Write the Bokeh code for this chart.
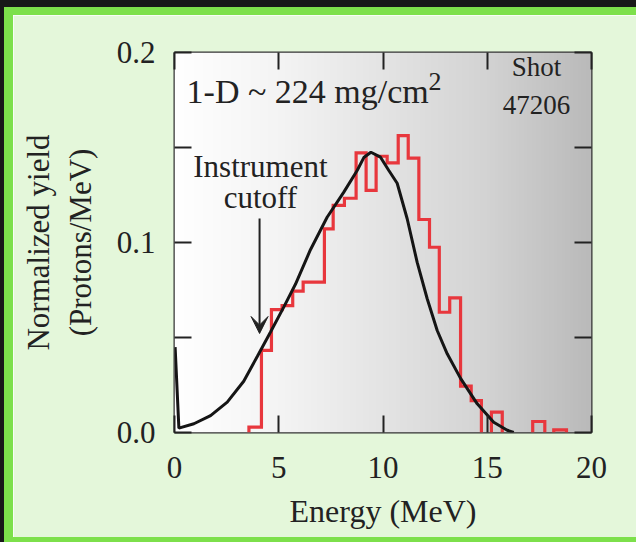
import numpy as np
from bokeh.plotting import figure
from bokeh.models import (Range1d, FixedTicker, LinearAxis, Label, Arrow, VeeHead,
                          Div, PrintfTickFormatter)
from bokeh.layouts import column, row
from bokeh.embed import file_html
from bokeh.resources import INLINE

# ---------------- data ----------------
# measured histogram (red): bin edges and values
red_edges = [3.57, 4.17, 4.65, 5.16, 5.67, 6.17, 7.19, 7.61, 8.15, 8.71, 9.19, 9.67,
             10.20, 10.73, 11.21, 11.72, 12.23, 12.70, 13.20, 13.72, 14.23, 14.72]
red_vals = [0.0028, 0.0432, 0.0647, 0.0668, 0.0744, 0.0791, 0.1072, 0.1195, 0.1233,
            0.1472, 0.1274, 0.1454, 0.1419, 0.1563, 0.1444, 0.1121, 0.0975, 0.0633,
            0.0709, 0.0244, 0.0168]
# isolated high-energy bins
tail_left = [15.20, 17.18, 18.19]
tail_right = [15.72, 17.76, 18.80]
tail_vals = [0.0107, 0.0058, 0.0014]

# simulated 1-D spectrum (black)
curve_x = [0.03, 0.21, 0.93, 1.73, 2.53, 3.32, 3.97, 4.60, 5.24, 5.80, 6.52, 7.32, 8.12,
           8.76, 9.08, 9.42, 9.88, 10.28, 10.68, 11.16, 11.64, 12.12, 12.60, 13.08,
           13.72, 14.52, 15.31, 15.96, 16.27]
curve_y = [0.0449, 0.0023, 0.0046, 0.0089, 0.0160, 0.0270, 0.0400, 0.0528, 0.0660,
           0.0780, 0.0962, 0.1133, 0.1265, 0.1379, 0.1447, 0.1475, 0.1449, 0.1379,
           0.1312, 0.1125, 0.0895, 0.0704, 0.0537, 0.0414, 0.0285, 0.0151, 0.0054,
           0.0012, 0.0]

x_ticks = [0, 5, 10, 15, 20]
y_ticks = [0.0, 0.1, 0.2]
y_minor_ticks = [0.05, 0.15]

cutoff_energy = 4.08
cutoff_arrow_top = 0.1126
cutoff_arrow_tip = 0.0521

# ---------------- styling ----------------
FONT = "Liberation Serif"
INK = "#222222"
RED = "#e8373d"
PANEL = "#e4f7da"
GREEN = "#7de04b"
DARK = "#181818"

p = figure(width=623, height=522, x_range=Range1d(0, 20), y_range=Range1d(0, 0.2),
           output_backend="svg", toolbar_location=None,
           min_border_left=161, min_border_right=45, min_border_top=37, min_border_bottom=105,
           background_fill_color="white", border_fill_color=PANEL,
           outline_line_color="#333333", outline_line_width=2)
p.grid.visible = False

# background gradient (white -> grey)
N = 256
t = np.linspace(0, 1, N)
g = np.interp(t, [0, 0.25, 0.5, 0.75, 1.0], [255, 244, 228, 211, 186]).astype(np.uint8)
img = np.empty((1, N), dtype=np.uint32)
view = img.view(dtype=np.uint8).reshape((1, N, 4))
view[0, :, 0] = g
view[0, :, 1] = g
view[0, :, 2] = g
view[0, :, 3] = 255
p.image_rgba(image=[img], x=0, y=0, dw=20, dh=0.2)

# red measured histogram as step line
sx, sy = [red_edges[0]], [0.0]
for i, v in enumerate(red_vals):
    sx += [red_edges[i], red_edges[i + 1]]
    sy += [v, v]
sx.append(red_edges[-1])
sy.append(0.0)
xs = [sx]
ys = [sy]
for l, r, v in zip(tail_left, tail_right, tail_vals):
    xs.append([l, l, r, r])
    ys.append([0.0, v, v, 0.0])
p.multi_line(xs=xs, ys=ys, line_color=RED, line_width=3.2, line_join="miter")

# black curve
p.line(curve_x, curve_y, line_color="#151515", line_width=3)

# axes
def style_axis(ax, ticker, show_labels):
    ax.ticker = ticker
    ax.axis_line_color = None
    ax.major_tick_in = 17
    ax.major_tick_out = 0
    ax.minor_tick_in = 17
    ax.minor_tick_out = 0
    ax.major_tick_line_color = INK
    ax.major_tick_line_width = 2
    ax.minor_tick_line_color = INK
    ax.minor_tick_line_width = 2
    if show_labels:
        ax.major_label_text_font = FONT
        ax.major_label_text_font_size = "31px"
        ax.major_label_text_color = INK
    else:
        ax.major_label_text_color = None
        ax.major_label_text_font_size = "8px"
        ax.major_label_standoff = 0

xt = FixedTicker(ticks=x_ticks)
yt = FixedTicker(ticks=y_ticks, minor_ticks=y_minor_ticks)

xa = p.xaxis[0]
style_axis(xa, xt, True)
xa.major_label_standoff = 24
xa.axis_label = "Energy (MeV)"
xa.axis_label_text_font = FONT
xa.axis_label_text_font_size = "32px"
xa.axis_label_text_font_style = "normal"
xa.axis_label_text_color = INK
xa.axis_label_standoff = 12

ya = p.yaxis[0]
style_axis(ya, yt, True)
ya.formatter = PrintfTickFormatter(format="%.1f")
ya.major_label_standoff = 19
ya.axis_label = "(Protons/MeV)"
ya.axis_label_text_font = FONT
ya.axis_label_text_font_size = "31px"
ya.axis_label_text_font_style = "normal"
ya.axis_label_text_color = INK
ya.axis_label_standoff = 16

# outer left axis carrying the first line of the y title
ya2 = LinearAxis(ticker=FixedTicker(ticks=[]), axis_line_color=None,
                 major_tick_in=0, major_tick_out=0, minor_tick_in=0, minor_tick_out=0,
                 major_label_standoff=0, major_label_text_color=None,
                 axis_label="Normalized yield", axis_label_text_font=FONT,
                 axis_label_text_font_size="31px", axis_label_text_font_style="normal",
                 axis_label_text_color=INK, axis_label_standoff=4)
p.add_layout(ya2, "left")

top = LinearAxis()
style_axis(top, FixedTicker(ticks=x_ticks), False)
p.add_layout(top, "above")
right = LinearAxis()
style_axis(right, FixedTicker(ticks=y_ticks, minor_ticks=y_minor_ticks), False)
p.add_layout(right, "right")

# annotations
def lab(x, y, text, size, align="center"):
    p.add_layout(Label(x=x, y=y, text=text, text_font=FONT, text_font_size=size,
                       text_color=INK, text_align=align, text_baseline="alphabetic"))

lab(0.58, 0.1795, "1-D ~ 224 mg/cm", "34px", "left")
lab(12.18, 0.1850, "2", "26px", "left")
lab(17.36, 0.1926, "Shot", "27px")
lab(17.36, 0.1726, "47206", "27px")
lab(4.12, 0.1398, "Instrument", "31px")
lab(4.12, 0.1237, "cutoff", "31px")
p.add_layout(Arrow(end=VeeHead(size=17, fill_color=INK, line_color=INK),
                   x_start=cutoff_energy, y_start=cutoff_arrow_top,
                   x_end=cutoff_energy, y_end=cutoff_arrow_tip,
                   line_color=INK, line_width=2))

def bar(w, h, color):
    return Div(text="", width=w, height=h, margin=0, styles={"background-color": color})

inner = column(bar(623 + 9, 8, GREEN),
               row(bar(9, 522, GREEN), p, spacing=0),
               bar(623 + 9, 5, GREEN), spacing=0)
layout = column(bar(636, 7, DARK), row(bar(4, 535, DARK), inner, spacing=0), spacing=0)

open("out.html", "w").write(file_html(layout, INLINE))
